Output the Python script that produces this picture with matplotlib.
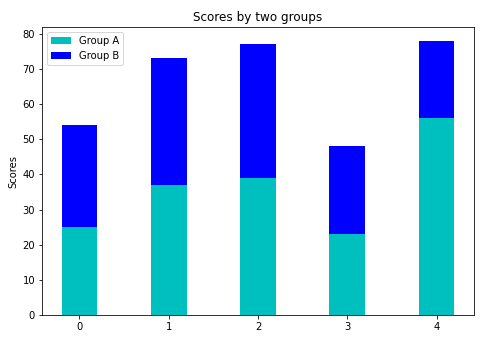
import numpy as np
import matplotlib
matplotlib.use("Agg")
import matplotlib.pyplot as plt

# scores per group
groups = [0, 1, 2, 3, 4]
group_a = [25, 37, 39, 23, 56]
group_b = [29, 36, 38, 25, 22]

ind = np.arange(len(groups))
width = 0.4

fig = plt.figure(figsize=(485 / 72, 337 / 72), dpi=72)
ax = fig.add_axes([42 / 485, 22 / 337, 432 / 485, 288 / 337])
ax.bar(ind, group_a, width, color='c', label='Group A')
ax.bar(ind, group_b, width, bottom=group_a, color='b', label='Group B')

ax.set_ylabel('Scores')
ax.set_title('Scores by two groups')
ax.set_xticks(ind)
ax.set_yticks(np.arange(0, 81, 10))
ax.legend(loc='upper left')

fig.savefig('out.png', dpi=72)
